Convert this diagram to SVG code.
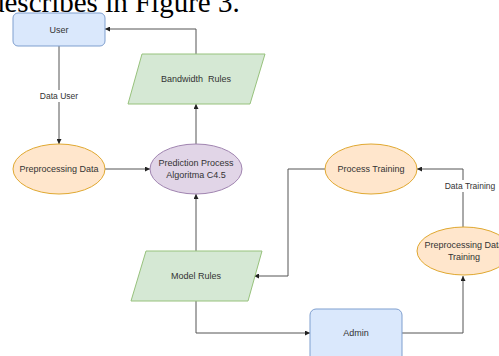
<svg xmlns="http://www.w3.org/2000/svg" width="499" height="356" viewBox="0 0 499 356">
<style>
.t{font-family:"Liberation Sans",Arial,sans-serif;font-size:9px;fill:#333;text-anchor:middle;dominant-baseline:central}
.blue{fill:#dae8fc;stroke:#7f9fcf;stroke-width:1}
.orange{fill:#ffe6cc;stroke:#e0a830;stroke-width:1}
.purple{fill:#e1d5e7;stroke:#a084b0;stroke-width:1}
.green{fill:#d5e8d4;stroke:#97c27c;stroke-width:1}
.e{fill:none;stroke:#555;stroke-width:1}
.lbl{font-family:"Liberation Sans",Arial,sans-serif;font-size:8.5px;fill:#333;text-anchor:middle;dominant-baseline:central}
</style>
<defs>
<marker id="a" viewBox="0 0 10 10" refX="10" refY="5" markerWidth="5" markerHeight="5" orient="auto" markerUnits="userSpaceOnUse">
<path d="M0,0 L10,5 L0,10 Z" fill="#222"/>
</marker>
</defs>
<rect width="499" height="356" fill="#fff"/>
<text x="-10" y="12" font-family="'Liberation Serif','Times New Roman',serif" font-size="29" fill="#000">describes in Figure 3.</text>
<g id="connectors">
<path class="e" d="M59,46 V144" marker-end="url(#a)"/>
<rect x="37" y="90" width="44" height="12" fill="#fff"/>
<text class="lbl" x="59" y="96">Data User</text>
<path class="e" d="M105,169 H150" marker-end="url(#a)"/>
<path class="e" d="M196,144 V104" marker-end="url(#a)"/>
<path class="e" d="M196,54 V29 H105" marker-end="url(#a)"/>
<path class="e" d="M196,251 V194" marker-end="url(#a)"/>
<path class="e" d="M325,169 H288 V276 H254" marker-end="url(#a)"/>
<path class="e" d="M463,227 V169 H417" marker-end="url(#a)"/>
<rect x="443" y="180" width="54" height="12" fill="#fff"/>
<text class="lbl" x="470" y="186">Data Training</text>
<path class="e" d="M196,301 V333 H310" marker-end="url(#a)"/>
<path class="e" d="M402,333 H463 V276" marker-end="url(#a)"/>
</g>
<g id="user">
<rect class="blue" x="13" y="13" width="92" height="33" rx="5"/>
<text class="t" x="59" y="30">User</text>
</g>
<g id="preprocessing-data">
<ellipse class="orange" cx="59" cy="169" rx="46" ry="25"/>
<text class="t" x="59" y="169">Preprocessing Data</text>
</g>
<g id="prediction-process">
<ellipse class="purple" cx="196" cy="169" rx="46" ry="25"/>
<text class="t" x="196" y="163">Prediction Process</text>
<text class="t" x="196" y="175">Algoritma C4.5</text>
</g>
<g id="bandwidth-rules">
<polygon class="green" points="142,54 265,54 250,104 128,104"/>
<text class="t" x="196" y="79" xml:space="preserve">Bandwidth  Rules</text>
</g>
<g id="model-rules">
<polygon class="green" points="146,251 262,251 248,301 131,301"/>
<text class="t" x="196" y="276">Model Rules</text>
</g>
<g id="process-training">
<ellipse class="orange" cx="371" cy="169" rx="46" ry="25"/>
<text class="t" x="371" y="169">Process Training</text>
</g>
<g id="preprocessing-data-training">
<ellipse class="orange" cx="464" cy="251" rx="47" ry="24"/>
<text class="t" x="464" y="245">Preprocessing Data</text>
<text class="t" x="464" y="257">Training</text>
</g>
<g id="admin">
<rect class="blue" x="310" y="309" width="92" height="60" rx="6"/>
<text class="t" x="356" y="333">Admin</text>
</g>
</svg>
